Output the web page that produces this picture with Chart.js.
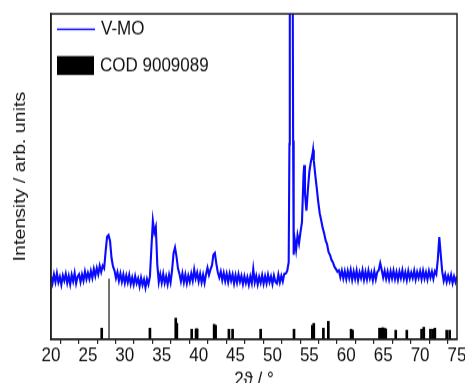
<!DOCTYPE html>
<html>
<head>
<meta charset="utf-8">
<script src="https://cdn.jsdelivr.net/npm/chart.js@4.4.0/dist/chart.umd.min.js"></script>
<style>
  html, body { margin:0; padding:0; background:#fff; }
  body { width:465px; height:383px; }
  #wrap { width:465px; height:333px; transform:scaleY(1.1502); transform-origin:0 0; }
</style>
</head>
<body>
<div id="wrap"><canvas id="c" width="465" height="333"></canvas></div>
<script>
// measured pattern: 2θ (deg) and intensity (arb. units, axis 0–100)
const twoTheta = [
  20.0,20.2,20.4,20.6,20.8, 21.0,21.2,21.4,21.6,21.8, 22.0,22.2,22.4,22.6,22.8,
  23.0,23.2,23.4,23.6,23.8, 24.0,24.2,24.4,24.6,24.8, 25.0,25.2,25.4,25.6,25.8,
  26.0,26.2,26.4,26.6,26.8, 27.0,27.2,27.4,27.6,27.8, 28.0,28.2,28.4,28.6,28.8,
  29.0,29.2,29.4,29.6,29.8, 30.0,30.2,30.4,30.6,30.8, 31.0,31.2,31.4,31.6,31.8,
  32.0,32.2,32.4,32.6,32.8, 33.0,33.2,33.4,33.6,33.8, 34.0,34.2,34.4,34.6,34.8,
  35.0,35.2,35.4,35.6,35.8, 36.0,36.2,36.4,36.6,36.8, 37.0,37.2,37.4,37.6,37.8,
  38.0,38.2,38.4,38.6,38.8, 39.0,39.2,39.4,39.6,39.8, 40.0,40.2,40.4,40.6,40.8,
  41.0,41.2,41.4,41.6,41.8, 42.0,42.2,42.4,42.6,42.8, 43.0,43.2,43.4,43.6,43.8,
  44.0,44.2,44.4,44.6,44.8, 45.0,45.2,45.4,45.6,45.8, 46.0,46.2,46.4,46.6,46.8,
  47.0,47.2,47.4,47.6,47.8, 48.0,48.2,48.4,48.6,48.8, 49.0,49.2,49.4,49.6,49.8,
  50.0,50.2,50.4,50.6,50.8, 51.0,51.2,51.4,51.6,51.8,
  52.0,52.2,52.3,52.35,52.5,52.65,52.75,52.8,52.85,52.9,
  53.0,53.2,53.4,53.6,53.8, 54.0,54.2,54.3,54.4,54.6,54.8, 55.0,55.2,55.4,55.5,55.6,55.8,
  56.0,56.2,56.4,56.6,56.8, 57.0,57.2,57.4,57.6,57.8, 58.0,58.2,58.4,58.6,58.8,
  59.0,59.2,59.4,59.6,59.8, 60.0,60.2,60.4,60.6,60.8, 61.0,61.2,61.4,61.6,61.8,
  62.0,62.2,62.4,62.6,62.8, 63.0,63.2,63.4,63.6,63.8, 64.0,64.2,64.4,64.6,64.8,
  65.0,65.2,65.4,65.6,65.8, 66.0,66.2,66.4,66.6,66.8, 67.0,67.2,67.4,67.6,67.8,
  68.0,68.2,68.4,68.6,68.8, 69.0,69.2,69.4,69.6,69.8, 70.0,70.2,70.4,70.6,70.8,
  71.0,71.2,71.4,71.6,71.8, 72.0,72.2,72.4,72.6,72.8, 73.0,73.2,73.4,73.6,73.8,
  74.0,74.2,74.4,74.6,74.8, 75.0
];
const intensity = [
  19.4,17.2,19.9,17.6,20.3, 17.5,19.2,16.8,19.6,18.0, 20.1,17.3,19.5,16.9,19.8,
  17.8,20.4,17.2,19.3,20.0, 17.6,19.9,18.0,20.8,18.5, 20.4,18.6,21.0,18.9,21.6,
  19.5,21.9,20.0,22.6,20.7, 22.6,21.8,27.0,31.5,32.0, 30.2,25.0,22.4,21.2,18.8,
  20.6,18.0,20.2,17.7,19.9, 17.3,19.6,17.5,19.8,17.0, 19.0,16.8,19.4,17.2,18.7,
  16.3,18.9,16.7,18.4,15.9, 18.5,16.9,19.3,28.0,36.4, 32.8,34.5,23.0,17.6,20.0,
  17.4,20.1,17.3,19.3,16.9, 19.8,17.5,21.2,26.4,28.2, 25.5,21.8,20.1,17.8,20.3,
  17.5,19.9,17.2,19.6,17.7, 20.2,18.0,21.4,18.7,20.5, 17.8,20.1,17.5,19.8,17.3,
  20.0,22.0,19.8,21.4,22.6, 26.0,26.5,23.2,20.6,19.0, 20.8,18.2,20.4,17.9,20.1,
  17.6,20.2,18.0,19.9,17.2, 19.7,17.4,20.0,17.7,19.5, 17.0,19.4,17.3,19.1,16.8,
  19.3,17.3,21.6,17.5,19.5, 16.9,19.2,17.4,19.7,17.1, 19.4,17.2,19.8,17.6,19.3,
  17.0,19.6,17.7,17.2,19.9, 17.5,19.5,17.8,20.1,20.2,
  21.0,23.7,60.0,140,130,140,105,61.0,50.0,26.0,
  31.0,27.5,32.0,29.5,33.0, 36.0,50.0,53.5,45.0,39.5,46.0, 51.5,54.5,56.5,58.2,55.0,50.5,
  46.5,42.3,38.8,36.6,34.3, 32.6,30.4,29.2,26.8,25.9, 24.4,23.6,22.3,21.6,20.8,
  21.2,19.1,21.1,18.7,20.9, 18.5,21.0,18.8,21.3,18.3, 20.8,18.6,21.1,18.2,20.6,
  18.8,21.2,18.3,20.7,18.4, 21.1,18.7,20.5,18.1,20.9, 18.5,20.7,21.2,23.4,21.4,
  19.0,21.0,18.6,20.8,18.4, 20.9,18.7,21.1,18.5,20.7, 18.3,20.8,18.8,21.2,18.6,
  20.6,18.2,21.0,18.7,20.5, 18.8,21.1,18.4,20.7,18.9, 20.9,18.5,21.1,18.7,20.6,
  18.4,21.0,19.0,20.8,18.6, 20.9,20.0,24.5,31.4,26.0, 20.8,18.0,19.9,17.6,19.5,
  17.8,19.8,17.3,19.3,17.6, 19.4
];

// COD 9009089 reference lines
const codPos    = [26.87, 33.4, 36.9, 37.05, 39.06, 39.65, 39.8, 42.1, 42.3, 44.1, 44.6, 48.4,
                   52.92, 55.4, 55.6, 56.9, 57.57, 60.65, 60.85, 64.5, 64.7, 64.9, 65.0, 65.2, 65.35,
                   66.7, 68.2, 70.2, 70.5, 71.4, 71.7, 72.0, 73.6, 74.0];
const codHeight = [3.4, 3.4, 6.5, 4.9, 3.1, 3.2, 3.2, 4.6, 4.3, 3.1, 3.1, 3.1,
                   3.1, 4.3, 4.9, 3.4, 5.5, 3.1, 2.8, 3.4, 3.4, 3.5, 3.5, 3.3, 3.2,
                   2.8, 2.8, 3.1, 3.7, 3.1, 3.1, 3.4, 2.8, 2.8];
const codStrongPos    = [27.86];
const codStrongHeight = [18.5];

const xTicks = [20, 25, 30, 35, 40, 45, 50, 55, 60, 65, 70, 75];

const FONT = "'Liberation Sans', Arial, sans-serif";

// legend in the upper left corner of the plot
const legendBox = {
  id:"legendBox",
  afterDraw(chart) {
    const { ctx } = chart;
    const [curve, cod] = chart.data.datasets;
    ctx.save();
    ctx.font = `17px ${FONT}`;
    ctx.textBaseline = "middle";
    ctx.fillStyle = "#111";
    ctx.strokeStyle = curve.borderColor; ctx.lineWidth = 1.5;
    ctx.beginPath(); ctx.moveTo(57, 25.5); ctx.lineTo(95, 25.5); ctx.stroke();
    ctx.fillText(curve.label, 101, 25.5);
    ctx.fillStyle = cod.backgroundColor;
    ctx.fillRect(57, 48.7, 37, 16.5);
    ctx.fillStyle = "#111";
    ctx.fillText(cod.label, 100, 57);
    ctx.restore();
  }
};

// closed frame round the plot
const frame = {
  id:"frame",
  afterDraw(chart) {
    const { ctx, chartArea:a } = chart;
    ctx.save();
    ctx.strokeStyle = "#222"; ctx.lineWidth = 1.5;
    ctx.strokeRect(a.left, a.top, a.right - a.left, a.bottom - a.top);
    ctx.restore();
  }
};

new Chart(document.getElementById("c"), {
  type:"line",
  data:{
    datasets:[
      { label:"V-MO", data:twoTheta.map((x, i) => ({ x, y:intensity[i] })),
        borderColor:"#0a0aff", borderWidth:2.1, pointRadius:0, tension:0, order:0 },
      { type:"bar", label:"COD 9009089", data:codPos.map((x, i) => ({ x, y:codHeight[i] })),
        backgroundColor:"#000", barThickness:2, grouped:false, order:1 },
      { type:"bar", label:"", data:codStrongPos.map((x, i) => ({ x, y:codStrongHeight[i] })),
        backgroundColor:"#555", barThickness:1, grouped:false, order:1 },
    ],
  },
  options:{
    responsive:false, animation:false, devicePixelRatio:1,
    layout:{ padding:{ top:12, right:8, left:0, bottom:0 } },
    plugins:{ legend:{ display:false }, tooltip:{ enabled:false } },
    scales:{
      x:{
        type:"linear", min:20, max:75, offset:false,
        afterBuildTicks:s => { s.ticks = []; xTicks.forEach(v => { s.ticks.push({ value:v }); if (v < 75) s.ticks.push({ value:v + 2.5 }); }); },
        ticks:{ autoSkip:false, maxRotation:0, padding:0, color:"#111", font:{ family:FONT, size:17 },
                callback:v => xTicks.includes(v) ? v : "" },
        grid:{ drawOnChartArea:false, drawTicks:true, tickLength:4, color:"#222", lineWidth:1.2 },
        border:{ display:true, color:"#222", width:1.5 },
        title:{ display:true, text:"2ϑ / °", color:"#111", font:{ family:FONT, size:17 }, padding:{ top:0, bottom:-7.5 } },
        afterFit:s => { s.height = 38; s.paddingLeft = 0; s.paddingRight = 0; },
      },
      y:{
        min:0, max:100,
        ticks:{ display:false },
        grid:{ display:false },
        border:{ display:true, color:"#222", width:1.5 },
        title:{ display:true, text:"Intensity / arb. units", color:"#111", font:{ family:FONT, size:17 }, padding:{ top:10, bottom:0 } },
        afterFit:s => { s.width = 51; },
      },
    },
  },
  plugins:[legendBox, frame],
});
</script>
</body>
</html>
